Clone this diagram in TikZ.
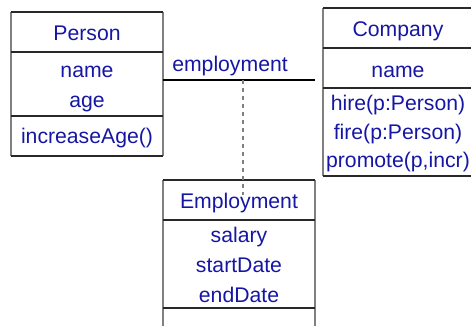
\documentclass[tikz,border=0pt]{standalone}
\usepackage{fontspec}
\setmainfont{Liberation Sans}
\definecolor{txtblue}{RGB}{22,22,165}
\definecolor{vline}{RGB}{128,128,128}
\definecolor{hline}{RGB}{40,40,40}
\begin{document}
\begin{tikzpicture}[x=1pt,y=-1pt,
  lbl/.style={anchor=base,inner sep=0pt,text=txtblue,font=\fontsize{21.2}{25}\selectfont},
  vedge/.style={draw=vline,line width=1.6pt},
  hedge/.style={draw=hline,line width=1.6pt},
  assoc/.style={draw=black,line width=1.2pt},
  link/.style={draw=vline,line width=1.6pt,dash pattern=on 4pt off 4pt}]
\useasboundingbox (0,0) rectangle (471,325);
% Person class
\draw[vedge] (11,12) -- (11,156) (163,12) -- (163,156);
\draw[hedge] (11,12) -- (163,12) (11,52) -- (163,52) (11,116) -- (163,116) (11,156) -- (163,156);
\node[lbl] (pt) at (87,40) {Person};
\node[lbl] (pa1) at (87,77) {name};
\node[lbl] (pa2) at (87,107) {age};
\node[lbl] (pm1) at (87,143) {increaseAge()};
% Company class
\draw[vedge] (323,8) -- (323,176) (473,8) -- (473,176);
\draw[hedge] (323,8) -- (473,8) (323,48) -- (473,48) (323,88) -- (473,88) (323,176) -- (473,176);
\node[lbl] (ct) at (398,36) {Company};
\node[lbl] (ca1) at (398,77) {name};
\node[lbl] (cm1) at (398,110) {hire(p:Person)};
\node[lbl] (cm2) at (398,139) {fire(p:Person)};
\node[lbl] (cm3) at (398,167) {promote(p,incr)};
% Employment association class
\draw[vedge] (163,180) -- (163,330) (315,180) -- (315,330);
\draw[hedge] (163,180) -- (315,180) (163,220) -- (315,220) (163,308) -- (315,308);
\node[lbl] (et) at (239,208) {Employment};
\node[lbl] (ea1) at (239,242) {salary};
\node[lbl] (ea2) at (239,272) {startDate};
\node[lbl] (ea3) at (239,302) {endDate};
% association
\coordinate (aL) at (163,80);
\coordinate (aR) at (315,80);
\coordinate (aM) at (243,80);
\coordinate (aE) at (243,195);
\draw[assoc] (aL) -- (aR);
\node[lbl] (al) at (230,71) {employment};
\draw[link] (aM) -- (aE);
\end{tikzpicture}
\end{document}
